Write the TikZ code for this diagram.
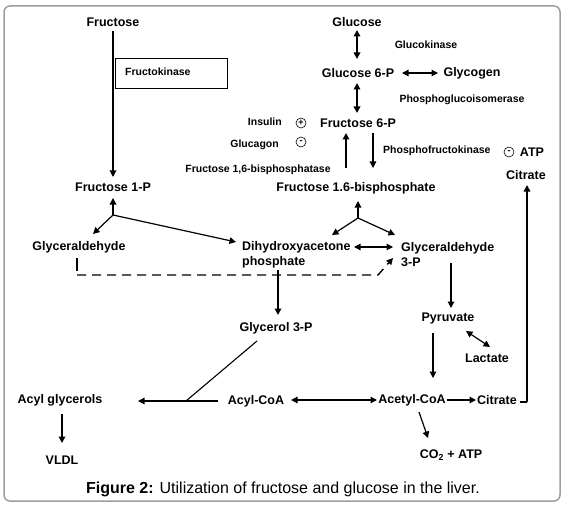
\documentclass[tikz,border=0pt]{standalone}
\usepackage{fontspec}
\setmainfont{Liberation Sans}
\usetikzlibrary{arrows.meta}
\begin{document}
\begin{tikzpicture}[x=1pt,y=-1pt,
  lbl/.style={font=\fontsize{12.5}{15}\selectfont\bfseries, inner sep=0pt},
  sml/.style={font=\fontsize{10.5}{12}\selectfont\bfseries, inner sep=0pt},
  sign/.style={draw, circle, line width=0.6pt, minimum size=10pt, inner sep=0pt, font=\fontsize{9}{9}\selectfont\bfseries},
  tip/.style={-{Triangle[length=6.5pt,width=6.5pt]}},
  dtip/.style={{Triangle[length=6.5pt,width=6.5pt]}-{Triangle[length=6.5pt,width=6.5pt]}},
  arr/.style={line width=1.2pt, tip},
  thk/.style={line width=1.8pt},
  dbl/.style={line width=1.2pt, dtip},
]
\useasboundingbox (0,0) rectangle (567,513);
\draw[line width=1.5pt, draw=black!38, rounded corners=6pt] (4,6) rectangle (560,501);

% nodes
\node[lbl] (fru) at (113,22) {Fructose};
\node[lbl] (glc) at (357,22) {Glucose};
\node[sml] (glck) at (426,45) {Glucokinase};
\node[lbl] (g6p) at (358,73) {Glucose 6-P};
\node[lbl] (glyc) at (472,73) {Glycogen};
\node[sml] (pgi) at (462,100) {Phosphoglucoisomerase};
\node[lbl] (f6p) at (358,123) {Fructose 6-P};
\node[sml, anchor=east] (ins) at (282,122) {Insulin};
\node[sign] (plus) at (301,123) {+};
\node[sml, anchor=east] (glcg) at (279,145) {Glucagon};
\node[sign] (minusa) at (301,142) {-};
\node[sml] (fbpase) at (258,170) {Fructose 1,6-bisphosphatase};
\node[sml, anchor=west] (pfk) at (383,151) {Phosphofructokinase};
\node[sign] (minusb) at (509,152) {-};
\node[lbl] (atp) at (532,152) {ATP};
\node[lbl] (cita) at (526,175) {Citrate};
\node[lbl] (f16bp) at (356,188) {Fructose 1.6-bisphosphate};
\node[lbl] (f1p) at (113,187) {Fructose 1-P};
\node[draw, line width=0.6pt, minimum width=112pt, minimum height=30pt, anchor=north west, inner sep=0pt] (fkbox) at (115,58) {};
\node[sml, anchor=west] (fk) at (125,72) {Fructokinase};
\node[lbl] (gald) at (79,247) {Glyceraldehyde};
\node[lbl, align=left, anchor=west] (dhap) at (242,254.5) {Dihydroxyacetone\\phosphate};
\node[lbl, align=left, anchor=west] (g3p) at (401,255) {Glyceraldehyde\\3-P};
\node[lbl] (pyr) at (448,318) {Pyruvate};
\node[lbl] (lac) at (487,358) {Lactate};
\node[lbl] (gly3p) at (276,328) {Glycerol 3-P};
\node[lbl] (acylg) at (60,400) {Acyl glycerols};
\node[lbl] (vldl) at (62,460) {VLDL};
\node[lbl] (acylcoa) at (256,401) {Acyl-CoA};
\node[lbl] (acetyl) at (412,400) {Acetyl-CoA};
\node[lbl] (citb) at (497,400) {Citrate};
\node[lbl] (co2) at (451,455) {CO\textsubscript{2} + ATP};
\node[font=\fontsize{16}{18}\selectfont, inner sep=0pt] (cap) at (283,489) {\textbf{Figure 2:} Utilization of fructose and glucose in the liver.};

% coordinates
\coordinate (fa) at (113,31); \coordinate (fb) at (113,177);
\coordinate (ga) at (357,30); \coordinate (gb) at (357,59);
\coordinate (gc) at (402,73); \coordinate (gd) at (438,73);
\coordinate (ge) at (357,83); \coordinate (gf) at (357,113);
\coordinate (ua) at (346,168); \coordinate (ub) at (346,133);
\coordinate (da) at (373,133); \coordinate (db) at (373,168);
\coordinate (ca) at (520,402); \coordinate (cb) at (527,402); \coordinate (cc) at (527,185);
\coordinate (j1) at (113,215); \coordinate (j1u) at (113,198); \coordinate (j1l) at (93,234); \coordinate (j1r) at (236,242);
\coordinate (j2) at (358,218); \coordinate (j2u) at (358,201); \coordinate (j2l) at (332,235); \coordinate (j2r) at (395,235);
\coordinate (ha) at (354,247); \coordinate (hb) at (393,247);
\coordinate (ta) at (77,258); \coordinate (tb) at (77,271);
\coordinate (dsa) at (77,275); \coordinate (dsb) at (378,275); \coordinate (dsc) at (393,258);
\coordinate (dha) at (278,270); \coordinate (dhb) at (278,315);
\coordinate (g3a) at (451,263); \coordinate (g3b) at (451,308);
\coordinate (pa) at (433,333); \coordinate (pb) at (433,378);
\coordinate (la) at (466,331); \coordinate (lb) at (490,347);
\coordinate (ya) at (257,341); \coordinate (yb) at (186,401);
\coordinate (aa) at (218,401); \coordinate (ab) at (138,401);
\coordinate (va) at (62,414); \coordinate (vb) at (62,443);
\coordinate (xa) at (291,400); \coordinate (xb) at (377,400);
\coordinate (za) at (447,400); \coordinate (zb) at (476,400);
\coordinate (oa) at (419,412); \coordinate (ob) at (428,438);

% connectors
\draw[arr] (fa) -- (fb);
\draw[dbl, thk] (ga) -- (gb);
\draw[dbl] (gc) -- (gd);
\draw[dbl, thk] (ge) -- (gf);
\draw[arr, thk] (ua) -- (ub);
\draw[arr] (da) -- (db);
\draw[line width=1.5pt] (ca) -- (cb);
\draw[arr, line width=1.5pt] (cb) -- (cc);
\draw[arr] (j1) -- (j1u);
\draw[arr] (j1) -- (j1l);
\draw[arr] (j1) -- (j1r);
\draw[arr] (j2) -- (j2u);
\draw[arr] (j2) -- (j2l);
\draw[arr] (j2) -- (j2r);
\draw[dbl] (ha) -- (hb);
\draw[line width=1.2pt] (ta) -- (tb);
\draw[arr, line width=1.4pt, dash pattern=on 9pt off 6pt] (dsa) -- (dsb) -- (dsc);
\draw[arr, thk] (dha) -- (dhb);
\draw[arr] (g3a) -- (g3b);
\draw[arr] (pa) -- (pb);
\draw[dbl] (la) -- (lb);
\draw[line width=1.1pt] (ya) -- (yb);
\draw[arr] (aa) -- (ab);
\draw[arr, thk] (va) -- (vb);
\draw[dbl] (xa) -- (xb);
\draw[arr] (za) -- (zb);
\draw[arr] (oa) -- (ob);
\end{tikzpicture}
\end{document}
